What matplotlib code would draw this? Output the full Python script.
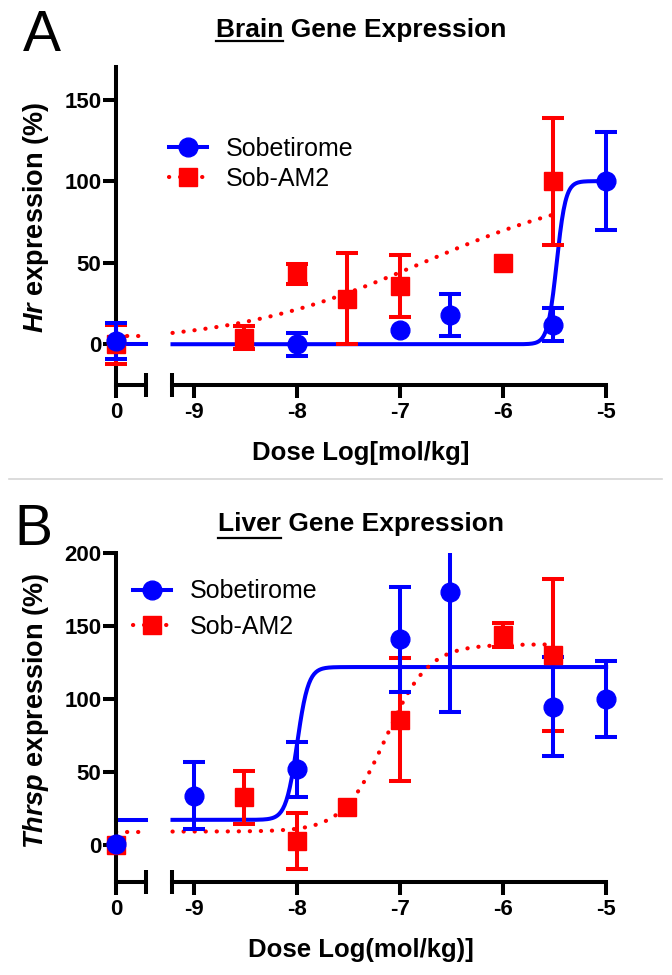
import matplotlib
matplotlib.use("Agg")
import matplotlib.pyplot as plt
import numpy as np
from matplotlib.lines import Line2D

plt.rcParams["font.family"] = ["Liberation Sans", "DejaVu Sans"]
plt.rcParams["font.weight"] = "bold"
plt.rcParams["axes.unicode_minus"] = False
plt.rcParams["mathtext.fontset"] = "custom"
plt.rcParams["mathtext.it"] = "Liberation Sans:italic:bold"
plt.rcParams["mathtext.rm"] = "Liberation Sans:bold"

BLUE = "#0000ff"
RED = "#ff0000"

# ---- Panel A: brain Hr expression (%)
a_sob_x = [-8, -7, -6.52, -5.52, -5]
a_sob_y = [0, 9, 18, 12, 100]
a_sob_err = [7, 0, 13, 10, 30]
a_am2_x = [-8.52, -8, -7.52, -7, -6, -5.52]
a_am2_y = [4, 43, 28, 36, 50, 100]
a_am2_err = [7, 6, 28, 19, 0, 39]
a_ctrl_y = [2, 0]          # sobetirome, sob-am2 at dose 0
a_ctrl_err = [11, 12]
a_ctrl_line = [0, 5]       # fitted level shown on the 0 segment
# fits: bottom, top, logEC50, hill, last dose
a_sob_fit = (0, 100, -5.48, 10, -5.0)
a_am2_fit = (0, 100, -6.78, 0.464, -5.52)

# ---- Panel B: liver Thrsp expression (%)
b_sob_x = [-9, -8, -7, -6.52, -5.52, -5]
b_sob_y = [34, 52, 141, 173, 95, 100]
b_sob_err = [23, 19, 36, 82, 34, 26]
b_am2_x = [-8.52, -8, -7.52, -7, -6, -5.52]
b_am2_y = [33, 3, 26, 86, 144, 130]
b_am2_err = [18, 19, 0, 42, 8, 52]
b_ctrl_y = [1, 0]
b_ctrl_err = [0, 0]
b_ctrl_line = [17.5, 9.5]
b_sob_fit = (17.5, 122, -8.0, 8, -5.0)
b_am2_fit = (9.5, 137.5, -7.14, 2.1, -5.52)

xticks_main = [-9, -8, -7, -6, -5]

W, H = 672, 975
PX_UNIT = 103        # pixels per log unit
X_START = -9.21
SMALL_END = 0.29
DOT = (0, (0.05, 2.6))


def fx(px):
    return px / W


def fy(py):
    return 1 - py / H


def hill(x, bottom, top, logec, h):
    return bottom + (top - bottom) / (1 + 10 ** ((logec - x) * h))


def style_axis(ax):
    ax.tick_params(width=2.9, length=9.5, labelsize=16, colors="black")
    ax.tick_params(axis="x", pad=3)
    ax.tick_params(axis="y", pad=1)
    for s in ("top", "right"):
        ax.spines[s].set_visible(False)
    for s in ("left", "bottom"):
        ax.spines[s].set_linewidth(2.9)
    ax.patch.set_alpha(0)


def points(ax, x, y, err, color, marker):
    # error bars only where there is a visible spread
    ex = [a for a, e in zip(x, err) if e > 0]
    ey = [b for b, e in zip(y, err) if e > 0]
    ee = [e for e in err if e > 0]
    if ee:
        ax.errorbar(ex, ey, yerr=ee, fmt="none", ecolor=color, elinewidth=2.9,
                    capsize=8, capthick=2.9, zorder=3)
    ax.plot(x, y, marker, ms=13.5, color=color, clip_on=False, zorder=4)


def make_panel(fig, top_px, bot_px, ylim, yticks, sob, am2, ctrl_y, ctrl_err,
               ctrl_line, fits):
    h = (bot_px - top_px) / H
    # small segment holding the zero dose
    left_s = 116 - 0.16 * PX_UNIT
    axs = fig.add_axes([fx(left_s), fy(bot_px), (0.45 * PX_UNIT) / W, h])
    axs.set_xlim(-0.16, SMALL_END)
    axs.set_ylim(*ylim)
    style_axis(axs)
    axs.spines["left"].set_position(("data", 0))
    axs.spines["bottom"].set_bounds(0, SMALL_END)
    axs.set_xticks([0])
    axs.set_yticks(yticks)
    # main log dose axis
    axm = fig.add_axes([fx(172.5), fy(bot_px), (4.41 * PX_UNIT) / W, h])
    axm.set_xlim(X_START, X_START + 4.41)
    axm.set_ylim(*ylim)
    style_axis(axm)
    axm.spines["left"].set_visible(False)
    axm.spines["bottom"].set_bounds(X_START, -5)
    axm.set_xticks(xticks_main)
    axm.tick_params(axis="y", left=False, labelleft=False)

    # broken axis end bars
    axs.plot([SMALL_END], [ylim[0]], marker="|", ms=17, mew=2.9, color="black",
             clip_on=False, zorder=5)
    axm.plot([X_START], [ylim[0]], marker="|", ms=17, mew=2.9, color="black",
             clip_on=False, zorder=5)

    # fitted curves
    for (b, t, ec, hh, xend), color, ls, lw in zip(
            fits, (BLUE, RED), ("-", DOT), (2.9, 3)):
        xs = np.linspace(X_START, xend, 500)
        axm.plot(xs, hill(xs, b, t, ec, hh), color=color, lw=lw, ls=ls,
                 dash_capstyle="round", zorder=2, clip_on=False)
    for lvl, color, ls, lw in zip(ctrl_line, (BLUE, RED), ("-", DOT), (2.9, 3)):
        axs.plot([0, SMALL_END], [lvl, lvl], color=color, lw=lw, ls=ls,
                 dash_capstyle="round", zorder=2, clip_on=False)

    # Sob-AM2 first, sobetirome on top
    points(axm, am2[0], am2[1], am2[2], RED, "s")
    points(axm, sob[0], sob[1], sob[2], BLUE, "o")
    points(axs, [0], [ctrl_y[1]], [ctrl_err[1]], RED, "s")
    points(axs, [0], [ctrl_y[0]], [ctrl_err[0]], BLUE, "o")
    return axs, axm


def add_legend(fig, left_px, center_px, spacing):
    handles = [
        Line2D([], [], color=BLUE, lw=2.9, marker="o", ms=13.5),
        Line2D([], [], color=RED, lw=3, ls=DOT, dash_capstyle="round",
               marker="s", ms=13.5),
    ]
    fig.legend(handles, ["Sobetirome", "Sob-AM2"], loc="center left",
               bbox_to_anchor=(fx(left_px), fy(center_px)),
               bbox_transform=fig.transFigure, frameon=False, borderpad=0,
               borderaxespad=0, handlelength=1.52, handletextpad=0.75,
               labelspacing=spacing,
               prop={"family": "Liberation Sans", "weight": "normal", "size": 18})


fig = plt.figure(figsize=(W / 100, H / 100), dpi=100)

make_panel(fig, 67, 385, (-25, 170), [0, 50, 100, 150],
           (a_sob_x, a_sob_y, a_sob_err), (a_am2_x, a_am2_y, a_am2_err),
           a_ctrl_y, a_ctrl_err, a_ctrl_line, (a_sob_fit, a_am2_fit))
make_panel(fig, 553, 882, (-25, 200), [0, 50, 100, 150, 200],
           (b_sob_x, b_sob_y, b_sob_err), (b_am2_x, b_am2_y, b_am2_err),
           b_ctrl_y, b_ctrl_err, b_ctrl_line, (b_sob_fit, b_am2_fit))

add_legend(fig, 169, 164, 0.25)
add_legend(fig, 133, 609, 0.45)

# titles with underlined organ name
titles = []
for organ, rest, ypx, ul in (("Brain", " Gene Expression", 30, 41),
                             ("Liver", " Gene Expression", 524, 538)):
    t = fig.text(fx(361), fy(ypx), organ + rest, ha="center", va="center",
                 fontsize=19, fontweight="bold")
    titles.append((t, organ, ul))

fig.text(fx(361), fy(453), "Dose Log[mol/kg]", ha="center", va="center",
         fontsize=18.5, fontweight="bold")
fig.text(fx(361), fy(950), "Dose Log(mol/kg)]", ha="center", va="center",
         fontsize=18.5, fontweight="bold")
fig.text(fx(36), fy(217), r"$\mathit{Hr}$ expression (%)", rotation=90,
         ha="center", va="center", fontsize=19.5, fontweight="bold")
fig.text(fx(36), fy(711), r"$\mathit{Thrsp}$ expression (%)", rotation=90,
         ha="center", va="center", fontsize=19.5, fontweight="bold")

fig.text(fx(23), fy(51), "A", ha="left", va="baseline", fontsize=41,
         fontweight="normal")
fig.text(fx(14), fy(545), "B", ha="left", va="baseline", fontsize=41,
         fontweight="normal")

fig.add_artist(Line2D([fx(9), fx(662)], [fy(479), fy(479)], color="#d6d6d6",
                      lw=1.2, transform=fig.transFigure))

fig.canvas.draw()
r = fig.canvas.get_renderer()
for t, organ, ul in titles:
    bb = t.get_window_extent(r)
    tmp = fig.text(0, 0, organ, fontsize=19, fontweight="bold")
    w = tmp.get_window_extent(r).width
    tmp.remove()
    fig.add_artist(Line2D([bb.x0 / W, (bb.x0 + w) / W], [fy(ul), fy(ul)],
                          color="black", lw=1.6, transform=fig.transFigure))

fig.savefig("out.png", dpi=100)
